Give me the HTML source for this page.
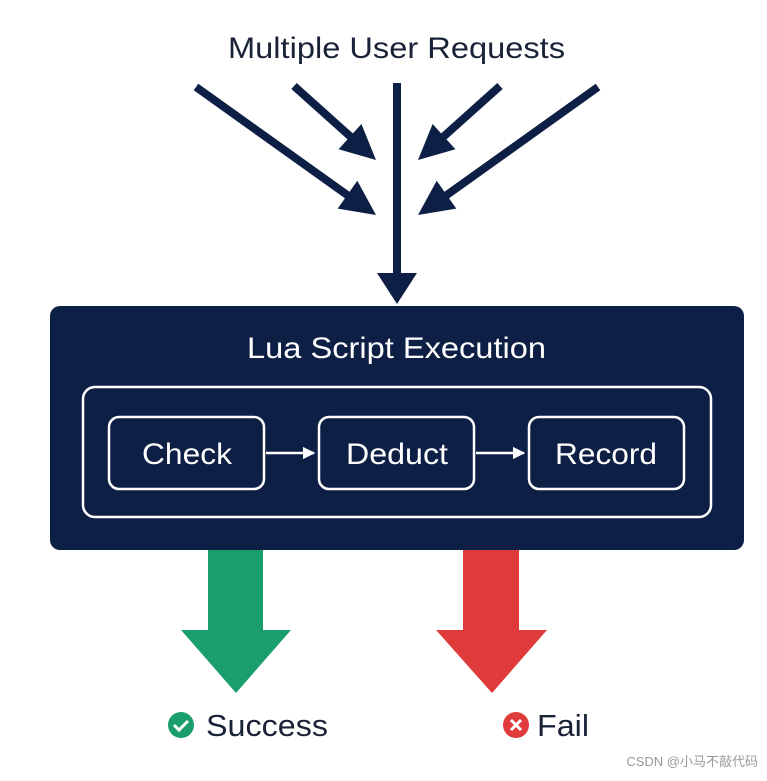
<!DOCTYPE html>
<html><head><meta charset="utf-8"><style>
html,body{margin:0;padding:0;background:#fff;}
body{width:767px;height:776px;overflow:hidden;}
</style></head><body>
<svg width="767" height="776" viewBox="0 0 767 776" xmlns="http://www.w3.org/2000/svg">
<defs>
<marker id="w" viewBox="0 0 10 10" refX="9" refY="5" markerWidth="5" markerHeight="5" orient="auto" markerUnits="strokeWidth">
<path d="M0,0 L10,5 L0,10 z" fill="#fff"/></marker>
</defs>
<text x="228" y="58" textLength="337" lengthAdjust="spacingAndGlyphs" font-family="Liberation Sans, sans-serif" font-size="30" fill="#1a2238">Multiple User Requests</text>
<g stroke="#0d1f45" stroke-width="8" fill="none">
<line x1="397" y1="83" x2="397" y2="280"/>
<line x1="196" y1="87" x2="350" y2="197"/>
<line x1="294" y1="86" x2="352" y2="138"/>
<line x1="500" y1="86" x2="442" y2="138"/>
<line x1="598" y1="87" x2="444" y2="197"/>
</g>
<g fill="#0d1f45">
<polygon points="337.7,208.6 357.3,180.8 376,215"/>
<polygon points="338.6,149.2 361.4,124 376,160"/>
<polygon points="455.4,149.2 432.6,124 418,160"/>
<polygon points="456.3,208.6 436.7,180.8 418,215"/>
<polygon points="377,273 417,273 397,304"/>
</g>
<rect x="50" y="306" width="694" height="244" rx="10" fill="#0d1f45"/>
<text x="247" y="358" textLength="299" lengthAdjust="spacingAndGlyphs" font-family="Liberation Sans, sans-serif" font-size="30" fill="#fff">Lua Script Execution</text>
<rect x="83" y="387" width="628" height="130" rx="12" fill="none" stroke="#fff" stroke-width="2.5"/>
<g fill="none" stroke="#fff" stroke-width="2.5">
<rect x="109" y="417" width="155" height="72" rx="10"/>
<rect x="319" y="417" width="155" height="72" rx="10"/>
<rect x="529" y="417" width="155" height="72" rx="10"/>
<line x1="266" y1="453" x2="314" y2="453" marker-end="url(#w)"/>
<line x1="476" y1="453" x2="524" y2="453" marker-end="url(#w)"/>
</g>
<g font-family="Liberation Sans, sans-serif" font-size="30" fill="#fff">
<text x="142" y="464" textLength="90" lengthAdjust="spacingAndGlyphs">Check</text>
<text x="346" y="464" textLength="102" lengthAdjust="spacingAndGlyphs">Deduct</text>
<text x="555" y="464" textLength="102" lengthAdjust="spacingAndGlyphs">Record</text>
</g>
<polygon points="208,550 263,550 263,630 291,630 236,693 181,630 208,630" fill="#1a9e6b"/>
<polygon points="463,550 519,550 519,630 547,630 492,693 436,630 463,630" fill="#df3b3a"/>
<circle cx="181" cy="725" r="13" fill="#1a9e6b"/>
<path d="M174,725 l5,5 l9,-9" stroke="#fff" stroke-width="3" fill="none"/>
<circle cx="516" cy="725" r="13" fill="#df3b3a"/>
<path d="M511,720 l10,10 M521,720 l-10,10" stroke="#fff" stroke-width="3"/>
<g font-family="Liberation Sans, sans-serif" font-size="31" fill="#1a2238">
<text x="206" y="736" textLength="122" lengthAdjust="spacingAndGlyphs">Success</text>
<text x="537" y="736" textLength="52" lengthAdjust="spacingAndGlyphs">Fail</text>
</g>
<text x="758" y="766" text-anchor="end" font-family="Liberation Sans, 'Noto Sans CJK SC', sans-serif" font-size="13" fill="#999">CSDN @小马不敲代码</text>
</svg>
</body></html>
